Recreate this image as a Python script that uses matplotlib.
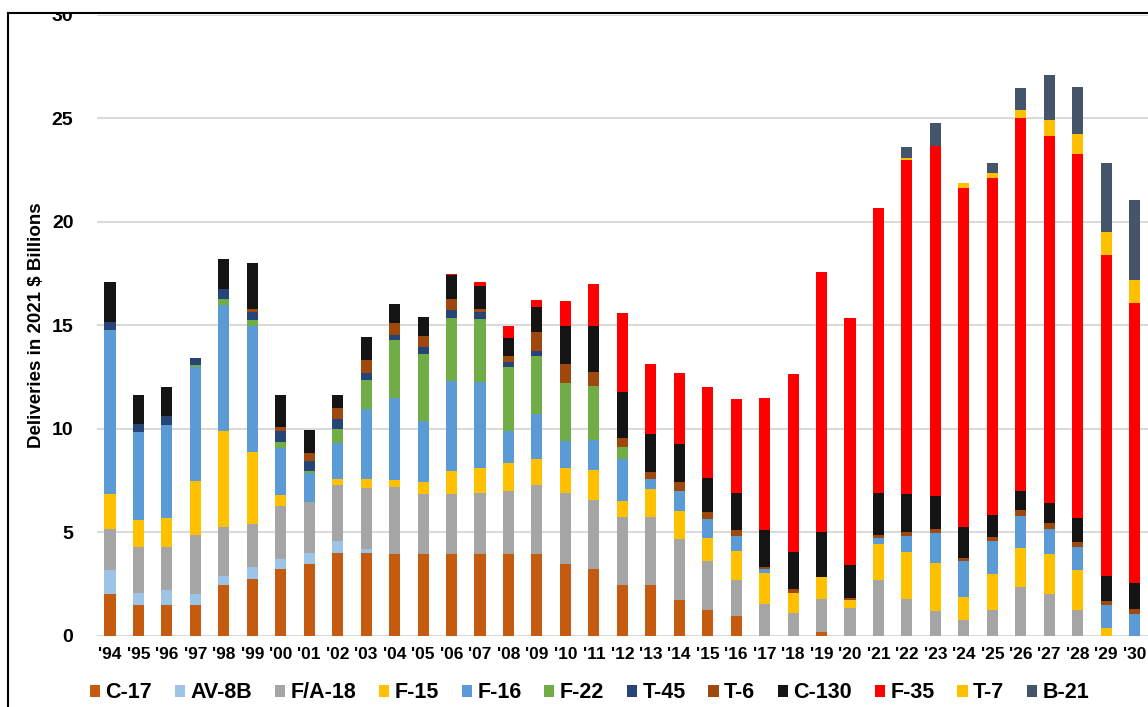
import matplotlib
matplotlib.use("Agg")
import matplotlib.pyplot as plt
from matplotlib.patches import Rectangle
from matplotlib.lines import Line2D
import numpy as np

plt.rcParams['font.family'] = ['Liberation Sans', 'DejaVu Sans']

years = ["'94", "'95", "'96", "'97", "'98", "'99", "'00", "'01", "'02", "'03",
         "'04", "'05", "'06", "'07", "'08", "'09", "'10", "'11", "'12", "'13",
         "'14", "'15", "'16", "'17", "'18", "'19", "'20", "'21", "'22", "'23",
         "'24", "'25", "'26", "'27", "'28", "'29", "'30"]

c17 = [2.0, 1.46, 1.46, 1.46, 2.43, 2.72, 3.2, 3.45, 3.97, 3.97,
       3.96, 3.96, 3.96, 3.96, 3.96, 3.96, 3.47, 3.23, 2.46, 2.46,
       1.7, 1.24, 0.94, 0, 0, 0.19, 0, 0, 0, 0,
       0, 0, 0, 0, 0, 0, 0]
av8b = [1.16, 0.59, 0.74, 0.55, 0.43, 0.57, 0.52, 0.55, 0.59, 0.2,
        0, 0, 0, 0, 0, 0, 0, 0, 0, 0,
        0, 0, 0, 0, 0, 0, 0, 0, 0, 0,
        0, 0, 0, 0, 0, 0, 0]
fa18 = [1.97, 2.21, 2.06, 2.85, 2.4, 2.1, 2.56, 2.46, 2.69, 2.95,
        3.23, 2.86, 2.86, 2.95, 3.04, 3.31, 3.4, 3.31, 3.28, 3.28,
        2.98, 2.35, 1.73, 1.54, 1.1, 1.59, 1.33, 2.67, 1.78, 1.17,
        0.73, 1.25, 2.35, 1.99, 1.25, 0, 0]
f15 = [1.71, 1.31, 1.43, 2.59, 4.64, 3.46, 0.52, 0, 0.32, 0.42,
       0.32, 0.58, 1.14, 1.18, 1.35, 1.26, 1.24, 1.46, 0.77, 1.32,
       1.35, 1.14, 1.4, 1.5, 0.97, 1.05, 0.4, 1.73, 2.27, 2.31,
       1.13, 1.71, 1.89, 1.93, 1.91, 0.36, 0]
f16 = [7.92, 4.27, 4.5, 5.51, 6.07, 6.09, 2.24, 1.39, 1.73, 3.42,
       3.99, 2.99, 4.32, 4.16, 1.54, 2.16, 1.29, 1.45, 2.02, 0.5,
       0.95, 0.92, 0.73, 0.15, 0, 0, 0, 0.29, 0.77, 1.49,
       1.73, 1.62, 1.55, 1.23, 1.13, 1.1, 1.05]
f22 = [0, 0, 0, 0.12, 0.29, 0.32, 0.31, 0.08, 0.69, 1.39,
       2.8, 3.23, 3.07, 3.07, 3.11, 2.83, 2.8, 2.62, 0.6, 0,
       0, 0, 0, 0, 0, 0, 0, 0, 0, 0,
       0, 0, 0, 0, 0, 0, 0]
t45 = [0.37, 0.39, 0.41, 0.33, 0.49, 0.36, 0.52, 0.48, 0.45, 0.35,
       0.2, 0.31, 0.4, 0.3, 0.21, 0.21, 0, 0, 0, 0,
       0, 0, 0, 0, 0, 0, 0, 0, 0, 0,
       0, 0, 0, 0, 0, 0, 0]
t6 = [0, 0, 0, 0, 0, 0.16, 0.19, 0.41, 0.56, 0.6,
      0.6, 0.56, 0.52, 0.18, 0.28, 0.92, 0.92, 0.66, 0.4, 0.32,
      0.42, 0.33, 0.29, 0.13, 0.16, 0, 0.08, 0.16, 0.2, 0.16,
      0.16, 0.19, 0.28, 0.27, 0.21, 0.21, 0.24]
c130 = [1.94, 1.41, 1.39, 0, 1.45, 2.22, 1.54, 1.13, 0.6, 1.15,
        0.94, 0.89, 1.13, 1.08, 0.89, 1.21, 1.86, 2.25, 2.23, 1.86,
        1.84, 1.61, 1.81, 1.78, 1.82, 2.15, 1.59, 2.03, 1.81, 1.59,
        1.51, 1.06, 0.89, 0.97, 1.16, 1.19, 1.27]
f35 = [0, 0, 0, 0, 0, 0, 0, 0, 0, 0,
       0, 0, 0.08, 0.2, 0.56, 0.34, 1.18, 2.03, 3.83, 3.38,
       3.47, 4.4, 4.54, 6.39, 8.57, 12.6, 11.94, 13.8, 16.15, 16.94,
       16.37, 16.29, 18.07, 17.77, 17.59, 15.54, 13.49]
t7 = [0, 0, 0, 0, 0, 0, 0, 0, 0, 0,
      0, 0, 0, 0, 0, 0, 0, 0, 0, 0,
      0, 0, 0, 0, 0, 0, 0, 0, 0.11, 0,
      0.26, 0.21, 0.36, 0.76, 1.01, 1.1, 1.13]
b21 = [0, 0, 0, 0, 0, 0, 0, 0, 0, 0,
       0, 0, 0, 0, 0, 0, 0, 0, 0, 0,
       0, 0, 0, 0, 0, 0, 0, 0, 0.54, 1.13,
       0, 0.53, 1.07, 2.18, 2.24, 3.32, 3.85]

series_names = ["C-17", "AV-8B", "F/A-18", "F-15", "F-16", "F-22",
                "T-45", "T-6", "C-130", "F-35", "T-7", "B-21"]
series_values = [c17, av8b, fa18, f15, f16, f22, t45, t6, c130, f35, t7, b21]
colors = ["#C55A11", "#9DC3E6", "#A5A5A5", "#FFC000", "#5B9BD5", "#70AD47",
          "#264478", "#9E480E", "#141414", "#FF0000", "#FFC000", "#44546A"]
yticks = [0, 5, 10, 15, 20, 25, 30]

W, H = 1148, 707
fig = plt.figure(figsize=(W / 100, H / 100), dpi=100)
fig.patch.set_facecolor("white")

ax_left, ax_right = 97, 1148
y0_px, y30_px = 635.5, 14.8
ax = fig.add_axes([ax_left / W, (H - y0_px) / H, (ax_right - ax_left) / W,
                   (y0_px - y30_px) / H])

x = np.arange(len(years))
bottom = np.zeros(len(years))
for name, vals, col in zip(series_names, series_values, colors):
    v = np.array(vals, dtype=float)
    ax.bar(x, v, bottom=bottom, width=0.39, color=col, label=name,
           linewidth=0, zorder=3)
    bottom += v

ax.set_xlim(-0.457, 36.47)
ax.set_ylim(0, 30)
ax.set_yticks(yticks)
ax.set_yticklabels([str(t) for t in yticks], fontsize=14, fontweight="bold")
ax.set_xticks(x)
ax.set_xticklabels(years, fontsize=12.5, fontweight="bold")
ax.tick_params(axis="y", length=0, pad=17)
ax.tick_params(axis="x", length=0, pad=8)
for s in ax.spines.values():
    s.set_visible(False)
ax.yaxis.grid(True, color="#D9D9D9", linewidth=1.4, zorder=0)
ax.set_axisbelow(True)

fig.text(37 / W, (H - 325.5) / H, "Deliveries in 2021 $ Billions",
         rotation=90, ha="center", va="center", fontsize=13.5,
         fontweight="bold")

leg = fig.legend(*ax.get_legend_handles_labels(), loc="center",
                 bbox_to_anchor=(((86 + 1093) / 2) / W, (H - 693) / H),
                 ncol=12, frameon=False,
                 prop={"size": 15.5, "weight": "bold"},
                 handlelength=0.48, handleheight=0.48, handletextpad=0.25,
                 columnspacing=1.05, borderpad=0, borderaxespad=0)

# white mask above the screenshot frame, then the frame lines
top_frac = (H - 12.7) / H
fig.add_artist(Rectangle((0, top_frac), 1, 1 - top_frac, transform=fig.transFigure,
                         facecolor="white", edgecolor="none", zorder=10))
fig.add_artist(Rectangle((0, 0), 7 / W, 1, transform=fig.transFigure,
                         facecolor="white", edgecolor="none", zorder=10))
fig.add_artist(Line2D([8 / W, 1], [top_frac, top_frac], transform=fig.transFigure,
                      color="black", linewidth=1.5, zorder=11))
fig.add_artist(Line2D([8 / W, 8 / W], [0, top_frac], transform=fig.transFigure,
                      color="black", linewidth=1.5, zorder=11))

fig.savefig("out.png", dpi=100)
